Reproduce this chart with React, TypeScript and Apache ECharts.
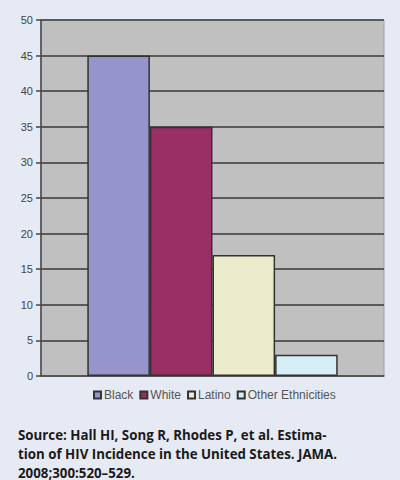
import React, { useEffect, useRef } from "react";
import * as echarts from "echarts";

const groups = ["Black", "White", "Latino", "Other Ethnicities"];
const incidence = [45, 35, 17, 3];
const groupColors = ["#9595cc", "#9a2f65", "#ececcc", "#d6eef6"];
const sourceLines = [
  "Source: Hall HI, Song R, Rhodes P, et al. Estima-",
  "tion of HIV Incidence in the United States. JAMA.",
  "2008;300:520\u2013529.",
];

const App: React.FC = () => {
  const chartRef = useRef<HTMLDivElement>(null);

  useEffect(() => {
    if (!chartRef.current) return;
    const chart = echarts.init(chartRef.current, undefined, { renderer: "svg" });

    const option = {
      animation: false,
      backgroundColor: "#e6eaf4",
      grid: {
        left: 41,
        right: 16,
        top: 20,
        bottom: 104,
        show: true,
        backgroundColor: "#c0c0c0",
        borderColor: "#a0a0a0",
        borderWidth: 1,
      },
      legend: {
        bottom: 74,
        left: 88,
        itemWidth: 7,
        itemHeight: 7,
        itemGap: 6,
        icon: "rect",
        textStyle: {
          fontFamily: "Liberation Sans",
          fontSize: 12,
          color: "#555",
          padding: [0, 0, 0, -2],
        },
        data: groups,
      },
      xAxis: {
        type: "category",
        data: [""],
        axisLine: { show: true, lineStyle: { color: "#555", width: 1.5 } },
        axisTick: { show: false },
        axisLabel: { show: false },
      },
      yAxis: {
        type: "value",
        min: 0,
        max: 50,
        interval: 5,
        axisLine: { show: true, lineStyle: { color: "#444", width: 1.5 } },
        axisTick: { show: true, length: 5, lineStyle: { color: "#444", width: 1.5 } },
        axisLabel: {
          fontFamily: "Liberation Sans",
          fontSize: 11,
          color: "#444",
          margin: 8,
        },
        splitLine: { show: true, lineStyle: { color: "#5a5a5a", width: 2 } },
      },
      series: groups.map((name, i) => ({
        name,
        type: "bar",
        data: [incidence[i]],
        barGap: "0%",
        barCategoryGap: "27%",
        itemStyle: {
          color: groupColors[i],
          borderColor: "#333",
          borderWidth: 1.5,
        },
      })),
      graphic: sourceLines.map((line, i) => ({
        type: "text",
        left: 18,
        top: 428 + i * 19,
        style: {
          text: line,
          fontFamily: "Open Sans",
          fontWeight: "bold",
          fontSize: 13.3,
          fill: "#1a1a1a",
        },
      })),
    };

    chart.setOption(option);

    return () => {
      chart.dispose();
    };
  }, []);

  return (
    <div
      ref={chartRef}
      style={{ position: "fixed", left: 0, top: 0, width: "400px", height: "480px" }}
    />
  );
};

export default App;
